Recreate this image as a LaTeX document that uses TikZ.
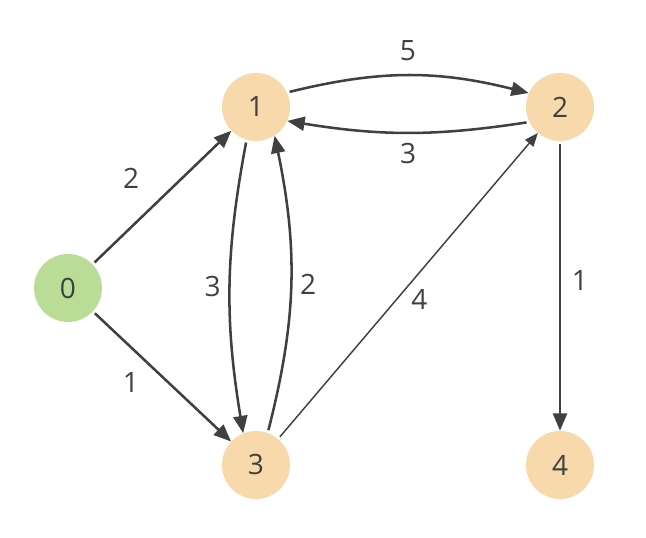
\documentclass[tikz,border=0pt]{standalone}
\usepackage{fontspec}
\setmainfont{Open Sans}
\usetikzlibrary{arrows.meta}
\definecolor{nodegreen}{HTML}{B9DC97}
\definecolor{nodeorange}{HTML}{F8D9AB}
\definecolor{edgegray}{HTML}{404040}
\tikzset{
	vert/.style={circle, minimum size=51pt, inner sep=0pt, text=edgegray, font=\fontsize{21}{24}\selectfont},
	arc/.style={draw=edgegray, line width=1.9pt, shorten <=2pt, -{Triangle[length=13pt,width=10.5pt]}},
	thinarc/.style={draw=edgegray, line width=1.1pt, shorten <=2pt, -{Triangle[length=10pt,width=8pt]}},
	lbl/.style={text=edgegray, inner sep=2pt, font=\fontsize{21}{24}\selectfont}
}
\begin{document}
\begin{tikzpicture}[x=0.75pt,y=0.75pt]
	\useasboundingbox (0,0) rectangle (646,538);
	\node[vert, fill=nodegreen] at (68,250) (0) {0};
	\node[vert, fill=nodeorange] at (256,431) (1) {1};
	\node[vert, fill=nodeorange] at (560,431) (2) {2};
	\node[vert, fill=nodeorange] at (256,73) (3) {3};
	\node[vert, fill=nodeorange] at (560,73) (4) {4};
	\path (0) edge[arc] node[lbl, pos=0.45, above left=9pt] {2} (1)
	(0) edge[arc] node[lbl, pos=0.4, below left=4pt] {1} (3)
	(1.254) edge[arc, bend right=10] node[lbl, left=4pt] {3} (3.112)
	(3.70) edge[arc, bend right=13] node[lbl, right=4pt] {2} (1.303)
	(3) edge[thinarc] node[lbl, below right=0pt] {4} (2)
	(1.25) edge[arc, bend left=14] node[lbl, above=8pt] {5} (2.156)
	(2.206) edge[arc, bend left=9] node[lbl, below=5pt] {3} (1.336)
	(2) edge[arc] node[lbl, pos=0.48, right=6pt] {1} (4);
\end{tikzpicture}
\end{document}
